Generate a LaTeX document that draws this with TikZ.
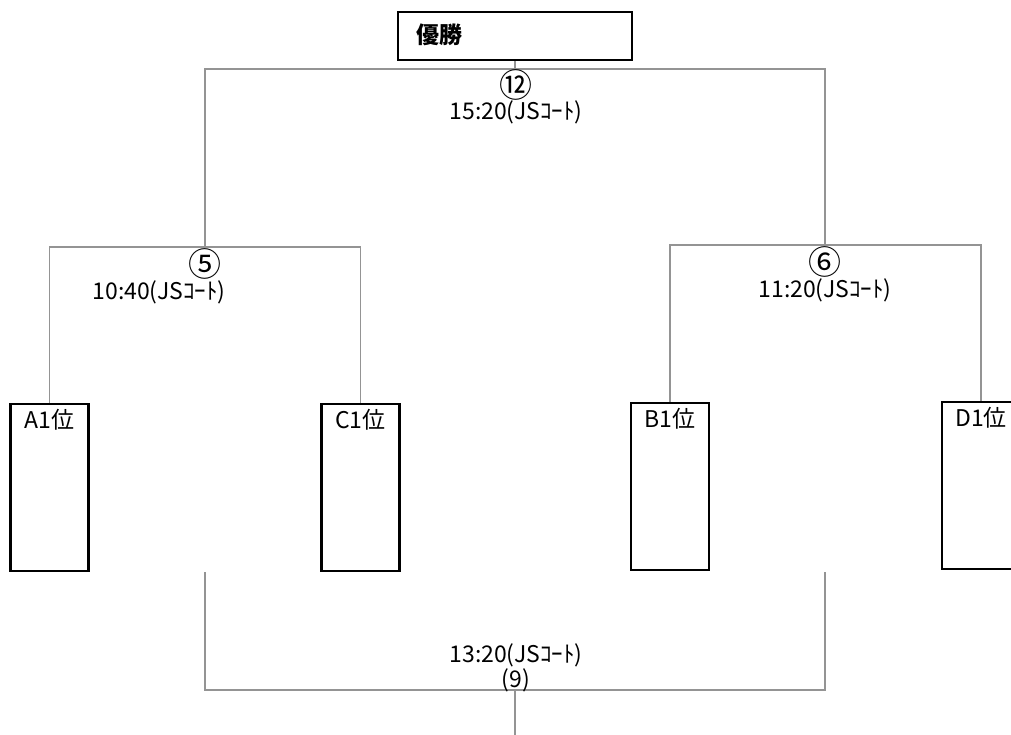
\documentclass[tikz,border=0pt]{standalone}
\usepackage{fontspec}
\setmainfont{Noto Sans CJK JP}
\begin{document}
\begin{tikzpicture}[x=1pt,y=-1pt,
  bracket/.style={draw=black!42, line width=1.4pt},
  teambox/.style={draw=black, line width=2.3pt, minimum width=78pt, minimum height=167pt, inner sep=0pt},
  teamlabel/.style={font=\fontsize{23}{24}\selectfont, anchor=north, inner sep=0pt},
  timelabel/.style={font=\fontsize{23}{24}\selectfont, inner sep=0pt},
  numlabel/.style={font=\fontsize{33}{34}\selectfont, inner sep=0pt}]
\useasboundingbox (0,0) rectangle (1011,735);
% winner box
\node[draw=black, line width=2.3pt, minimum width=234pt, minimum height=48pt, inner sep=0pt] (W) at (515,36) {};
\node[font=\fontsize{23}{26}\selectfont\bfseries, anchor=west, inner sep=0pt] (Wt) at (416,35) {優勝};
% team boxes
\node[teambox] (A) at (49.5,487.5) {};
\node[teambox] (C) at (360.5,487.5) {};
\node[teambox] (B) at (670,486.5) {};
\node[teambox] (D) at (981,485.5) {};
\node[teamlabel] (At) at ([yshift=-6pt]A.north) {A1位};
\node[teamlabel] (Ct) at ([yshift=-6pt]C.north) {C1位};
\node[teamlabel] (Bt) at ([yshift=-6pt]B.north) {B1位};
\node[teamlabel] (Dt) at ([yshift=-6pt]D.north) {D1位};
% junctions
\coordinate (m12) at (515,69);
\coordinate (m5) at (205,247);
\coordinate (m6) at (825,245);
\coordinate (b9l) at (205,572);
\coordinate (b9r) at (825,572);
\coordinate (m9) at (515,690);
\coordinate (b9e) at (515,735);
% connectors
\draw[bracket] (W.south) -- (m12);
\draw[bracket] (m5) |- (m12) -| (m6);
\draw[bracket] (A.north) |- (m5) -| (C.north);
\draw[bracket] (B.north) |- (m6) -| (D.north);
\draw[bracket] (b9l) |- (m9) -| (b9r);
\draw[bracket] (m9) -- (b9e);
% labels
\node[numlabel] (n12) at (516,85) {⑫};
\node[timelabel] (t12) at (516,112) {15:20(JSｺｰﾄ)};
\node[numlabel] (n5) at (205,264) {⑤};
\node[timelabel] (t5) at (159,292) {10:40(JSｺｰﾄ)};
\node[numlabel] (n6) at (825,262) {⑥};
\node[timelabel] (t6) at (825,290) {11:20(JSｺｰﾄ)};
\node[timelabel] (t9) at (516,655) {13:20(JSｺｰﾄ)};
\node[timelabel] (n9) at (516,680) {(9)};
\end{tikzpicture}
\end{document}
